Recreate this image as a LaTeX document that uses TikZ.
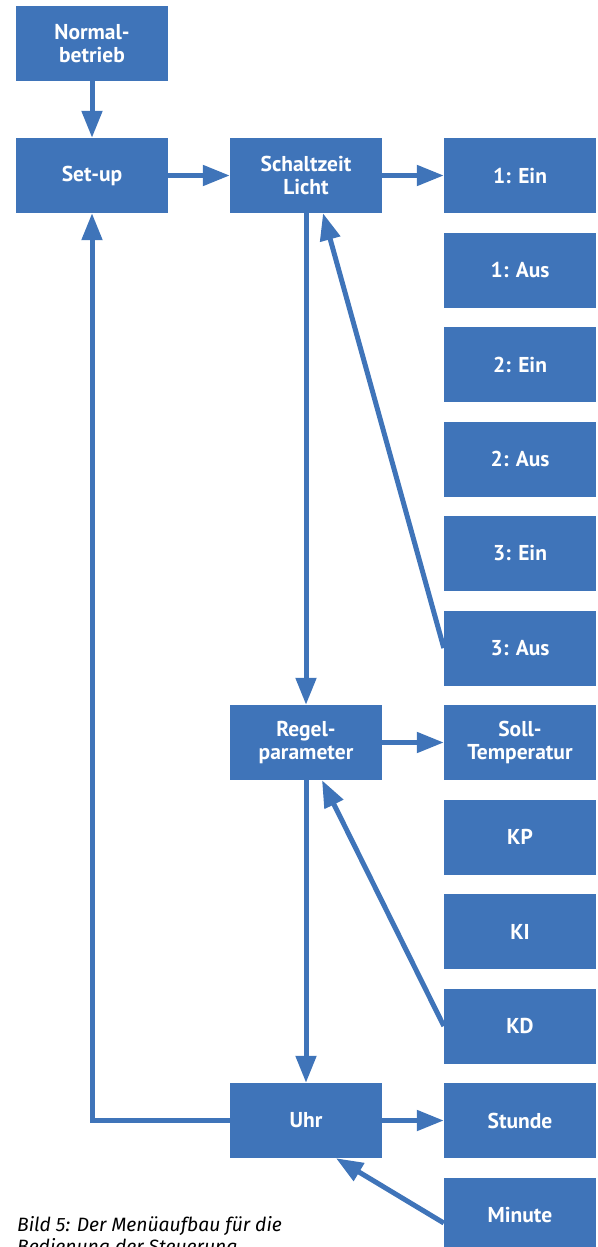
\documentclass[tikz,border=0pt]{standalone}
\usepackage{fontspec}
\setmainfont{PT Sans}
\newfontfamily\captionfont{Fira Sans}
\usetikzlibrary{positioning,arrows.meta}
\definecolor{menublue}{RGB}{63,116,185}

\begin{document}
\begin{tikzpicture}[x=1pt,y=-1pt,
    menu/.style={fill=menublue, text=white, minimum width=152pt, minimum height=75pt,
      inner sep=0pt, align=center, font=\fontsize{21.5}{23}\selectfont\bfseries},
    flow/.style={draw=menublue, line width=5pt, -{Triangle[length=27pt,width=20pt]}}]
    \useasboundingbox (0,0) rectangle (597,1247);
    \clip (0,0) rectangle (597,1247);

    % Main menu column
    \node[menu] (normal) at (92,43.5) {Normal-\\betrieb};
    \node[menu] (setup) at (92,175.5) {Set-up};
    \node[menu] (licht) at (306,175.5) {Schaltzeit\\Licht};
    \node[menu] (regel) at (306,742.5) {Regel-\\parameter};
    \node[menu] (uhr) at (306,1120.5) {Uhr};

    % Sub menu column
    \foreach \name/\txt [count=\k from 0] in {ein1/1: Ein, aus1/1: Aus, ein2/2: Ein, aus2/2: Aus, ein3/3: Ein, aus3/3: Aus, soll/Soll-\\Temperatur, kp/KP, ki/KI, kd/KD, stunde/Stunde, minute/Minute} {
      \node[menu] (\name) at (520,{175.5+94.5*\k}) {\txt};
    }

    % Arrows
    \draw[flow] (normal) -- (setup);
    \draw[flow] (setup) -- (licht);
    \draw[flow] (licht) -- (ein1);
    \draw[flow] (licht) -- (regel);
    \draw[flow] (regel) -- (soll);
    \draw[flow] (regel) -- (uhr);
    \draw[flow] (uhr) -- (stunde);
    \draw[flow] (uhr) -| (setup);

    % Back arrows
    \draw[flow] (aus3.west) -- ([xshift=17pt]licht.south);
    \draw[flow] (kd.west) -- ([xshift=16pt]regel.south);
    \draw[flow] ([yshift=-8pt]minute.west) -- ([xshift=30pt]uhr.south);

    % Caption
    \node[anchor=base west, align=left, inner sep=0pt, font=\captionfont\fontsize{19.3}{22}\selectfont\itshape] (caption) at (17,1253) {Bild 5: Der Menüaufbau für die\\Bedienung der Steuerung};
\end{tikzpicture}
\end{document}
